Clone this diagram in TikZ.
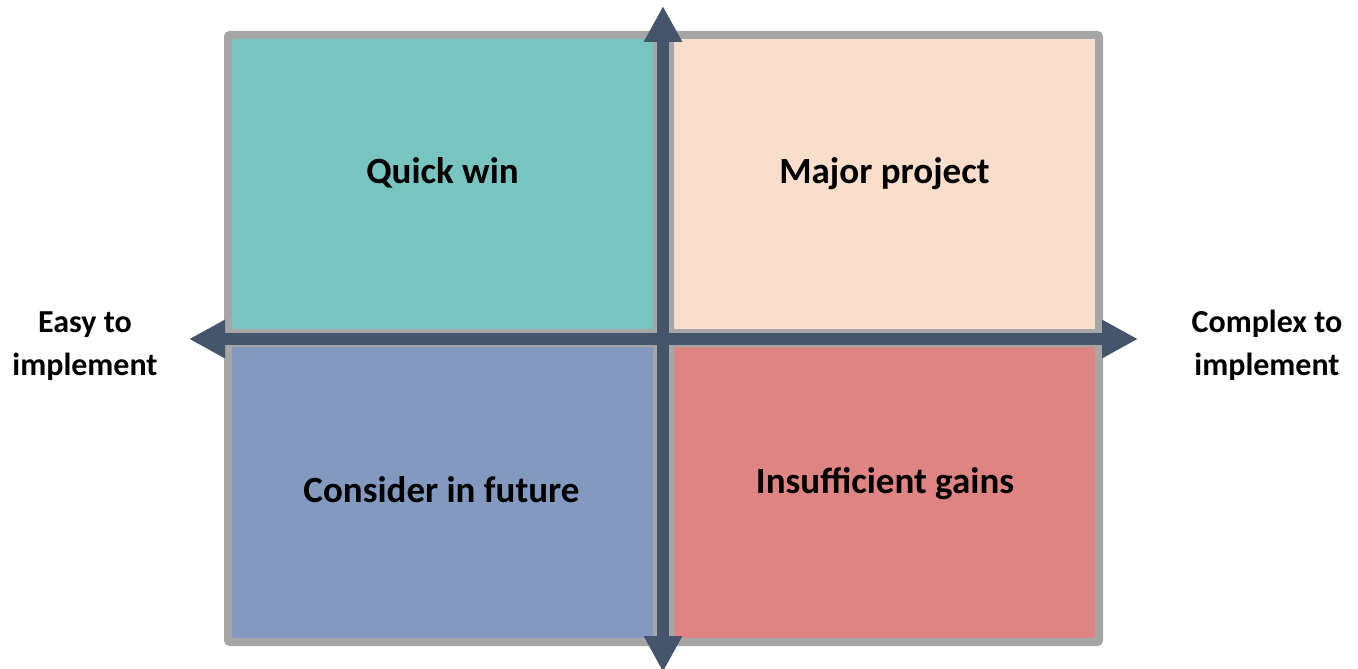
\documentclass[tikz,border=0pt]{standalone}
\usepackage{fontspec}
\setmainfont{Carlito}
\usetikzlibrary{arrows.meta}
\definecolor{qteal}{HTML}{77C4C1}
\definecolor{qpeach}{HTML}{F9DECB}
\definecolor{qblue}{HTML}{8399BF}
\definecolor{qred}{HTML}{DE8482}
\definecolor{qaxis}{HTML}{44546A}
\definecolor{qgray}{HTML}{A6A6A6}
\tikzset{
  quadbox/.style={draw=qgray, line width=8pt, rounded corners=2pt, minimum width=429pt, minimum height=298pt, inner sep=0pt, outer sep=0pt},
  quadlabel/.style={font=\fontsize{37}{44}\selectfont\bfseries, anchor=base, inner sep=0pt},
  sidelabel/.style={font=\fontsize{32}{43}\selectfont\bfseries, align=center, inner sep=0pt},
  axisline/.style={draw=qaxis, line width=12pt, {Triangle[length=36pt,width=36pt]}-{Triangle[length=36pt,width=36pt]}}
}
\begin{document}
\begin{tikzpicture}[x=1pt,y=-1pt]
\useasboundingbox (0,0) rectangle (1358,669);
\node[quadbox, fill=qteal]  (qw) at (442.5,184) {};
\node[quadbox, fill=qpeach] (mp) at (884.5,184) {};
\node[quadbox, fill=qblue, minimum height=299pt]  (cf) at (442.5,492.5) {};
\node[quadbox, fill=qred, minimum height=299pt]   (ig) at (884.5,492.5) {};
\coordinate (west) at (189,339);
\coordinate (east) at (1138,339);
\coordinate (north) at (663,6);
\coordinate (south) at (663,672);
\draw[axisline] (west) -- (east);
\draw[axisline] (north) -- (south);
\node[quadlabel] (tqw) at (442.5,183) {Quick win};
\node[quadlabel] (tmp) at (884.5,183) {Major project};
\node[quadlabel] (tcf) at (441.5,502) {Consider in future};
\node[quadlabel] (tig) at (885,493) {Insufficient gains};
\node[sidelabel, anchor=base] (easy) at (85,375) {Easy to\\implement};
\node[sidelabel, anchor=base] (complex) at (1267,375) {Complex to\\implement};
\end{tikzpicture}
\end{document}
